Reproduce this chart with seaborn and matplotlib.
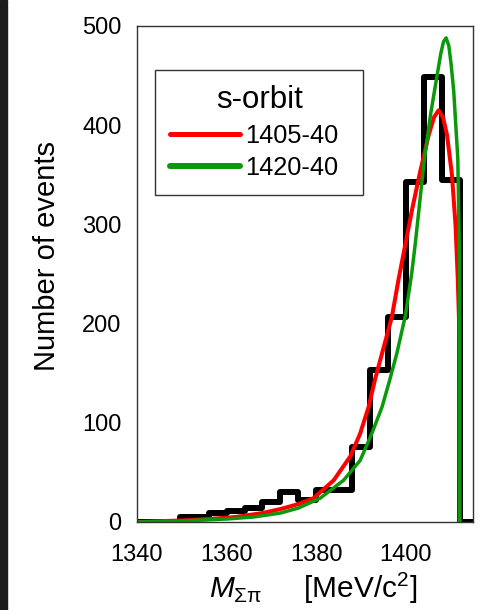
import numpy as np
import seaborn as sns
import matplotlib.pyplot as plt
from matplotlib.patches import Rectangle
from matplotlib.ticker import MultipleLocator, FuncFormatter

# histogram: bin edges (MeV/c^2) and events per bin
bin_edges = [1340, 1349.5, 1352, 1356, 1360, 1364, 1368, 1372, 1376, 1380,
             1384, 1388, 1392, 1396, 1400, 1404, 1408, 1412, 1415]
counts = [0, 5, 5, 9, 11, 14, 20, 30, 22, 32, 32, 76, 153, 207, 343, 449,
          345, 0]

# s-orbit fit curves
red_mass = [1340, 1350, 1356, 1362, 1368, 1372, 1376, 1379.4, 1383.9,
            1387.6, 1389.8, 1391.7, 1393.2, 1395, 1396.9, 1398.4, 1399.9,
            1401.4, 1403.2, 1405.1, 1406.3, 1407.3, 1408.3, 1409.2, 1410.3,
            1411.1, 1411.6, 1411.9, 1411.95]
red_counts = [0, 1.5, 3, 5, 9, 13, 18, 24, 42, 66, 89, 116, 145, 175, 207,
              245, 280, 315, 353, 390, 408, 415, 408, 390, 350, 299, 245,
              200, 0]

green_mass = [1340, 1350, 1360, 1366, 1372, 1376, 1380.9, 1386.1, 1389.8,
              1392.4, 1394.7, 1396.4, 1398, 1399.9, 1401.3, 1402.1, 1404,
              1405.5, 1406.6, 1407.8, 1408.4, 1409, 1409.6, 1410.1, 1410.7,
              1411.6, 1412.0, 1412.05]
green_counts = [0, 1, 3, 5, 9, 14, 24, 42, 62, 89, 116, 143, 170, 208, 250,
                280, 360, 410, 440, 472, 484, 488, 480, 462, 434, 367, 262, 0]

labels = ['1405-40', '1420-40']

sns.set_theme(style='white')
plt.rcParams['font.family'] = ['Liberation Sans', 'DejaVu Sans']
plt.rcParams['text.color'] = 'black'
plt.rcParams['axes.labelcolor'] = 'black'
plt.rcParams['mathtext.fontset'] = 'custom'
plt.rcParams['mathtext.rm'] = 'Liberation Sans'
plt.rcParams['mathtext.it'] = 'Liberation Sans:italic'

fig = plt.figure(figsize=(4.81, 6.10), dpi=100)
ax = fig.add_axes([0.2848, 0.1443, 0.6986, 0.8131])

bin_centers = [(a + b) / 2 for a, b in zip(bin_edges[:-1], bin_edges[1:])]
sns.histplot(x=bin_centers, weights=counts, bins=bin_edges, element='step',
             fill=False, color='black', linewidth=4.3, ax=ax)
sns.lineplot(x=red_mass, y=red_counts, color='#ff0000', linewidth=2.9,
             label=labels[0], ax=ax)
sns.lineplot(x=green_mass, y=green_counts, color='#0a990a', linewidth=2.5,
             label=labels[1], ax=ax)

ax.set_xlim(1340, 1415)
ax.set_ylim(0, 500)

ax.xaxis.set_major_locator(MultipleLocator(10))
ax.xaxis.set_minor_locator(MultipleLocator(2))
ax.yaxis.set_major_locator(MultipleLocator(50))
ax.yaxis.set_minor_locator(MultipleLocator(10))
ax.xaxis.set_major_formatter(
    FuncFormatter(lambda v, p: f'{v:.0f}' if round(v) % 20 == 0 else ''))
ax.yaxis.set_major_formatter(
    FuncFormatter(lambda v, p: f'{v:.0f}' if round(v) % 100 == 0 else ''))
ax.tick_params(which='both', direction='in', top=False, right=False,
               colors='#222222', labelcolor='black', width=0.9)
ax.tick_params(which='major', length=7.2, labelsize=17)
ax.tick_params(which='minor', length=3.6)
ax.tick_params(axis='x', which='major', pad=16)
ax.tick_params(axis='y', which='major', pad=11)
for side in ax.spines.values():
    side.set_linewidth(1.0)
    side.set_color('#333333')

ax.set_ylabel('Number of events', fontsize=21)
ax.yaxis.set_label_coords(-0.225, 0.536)
ax.set_xlabel(r'$M_{\mathrm{\Sigma\pi}}$     [MeV/c$^{2}$]', fontsize=21.5)
ax.xaxis.set_label_coords(0.525, -0.098)

leg = ax.legend(title='s-orbit', loc='upper left',
                bbox_to_anchor=(0.054, 0.655, 0.619, 0.256), mode='expand',
                fontsize=18.3, title_fontsize=22.5, frameon=True,
                fancybox=False, handlelength=2.75, handletextpad=0.2,
                borderpad=0.58, labelspacing=0.32, borderaxespad=0)
leg._legend_box.sep = 6.5
leg.get_frame().set_edgecolor('black')
leg.get_frame().set_linewidth(1.0)
for line, lw in zip(leg.get_lines(), [3.6, 4.3]):
    line.set_linewidth(lw)

# dark strip along the left edge of the picture
fig.patches.append(Rectangle((0, 0), 7 / 481, 1, transform=fig.transFigure,
                             color='#1c1c1c', zorder=10))

fig.savefig('out.png', dpi=100)
